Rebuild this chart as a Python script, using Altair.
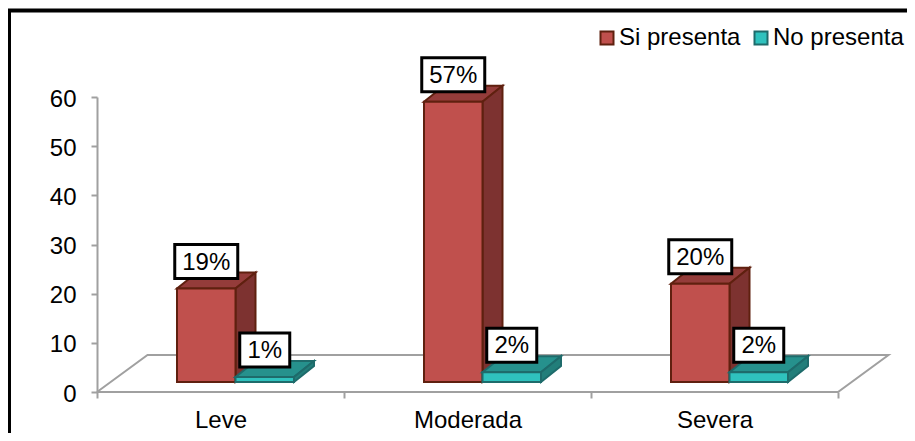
import altair as alt
import pandas as pd

categories = ["Leve", "Moderada", "Severa"]
si_presenta = [19, 57, 20]
no_presenta = [1, 2, 2]
labels_si = ["19%", "57%", "20%"]
labels_no = ["1%", "2%", "2%"]
y_ticks = [0, 10, 20, 30, 40, 50, 60]
series = ["Si presenta", "No presenta"]

FONT = "Liberation Sans"
FS = 24
FRONT = ["#C0504D", "#2FC2BE"]
SIDE = ["#7D3230", "#227E7A"]
TOP = ["#943C3A", "#26918D"]
EDGE = ["#5F200F", "#1E6B6B"]
AXIS_GRAY = "#A0A0A0"

PXX = 247.0       # pixels per category
PXY = 295 / 60.0  # pixels per value unit
W = 810
H = 295

# oblique depth of the bars and the floor, in data units
BAR_DX, BAR_DY = 20 / PXX, 16 / PXY
FLOOR_DX, FLOOR_DY = 50.5 / PXX, 37 / PXY
BASE = 10 / PXY
BAR_W = 58.5 / PXX
GROUP_START = 80 / PXX

front, side, top, box = [], [], [], []
for s, (vals, labs) in enumerate([(si_presenta, labels_si), (no_presenta, labels_no)]):
    for i, (c, v, lab) in enumerate(zip(categories, vals, labs)):
        x0 = i + GROUP_START + s * BAR_W
        x1 = x0 + BAR_W
        yt = BASE + v
        front.append(dict(serie=series[s], cat=c, x0=x0, x1=x1, y0=BASE, y1=yt))
        side += [
            dict(s=s, id=i, x=x1, y=BASE, y2=yt),
            dict(s=s, id=i, x=x1 + BAR_DX, y=BASE + BAR_DY, y2=yt + BAR_DY),
        ]
        top += [
            dict(s=s, id=i, y=yt, x=x0, x2=x1),
            dict(s=s, id=i, y=yt + BAR_DY, x=x0 + BAR_DX, x2=x1 + BAR_DX),
        ]
        box.append(dict(x=(x0 + x1) / 2, y=yt, label=lab, wide=len(lab) > 2))

front_df = pd.DataFrame(front)
side_df = pd.DataFrame(side)
top_df = pd.DataFrame(top)
box_df = pd.DataFrame(box)

n = len(categories)
floor_df = pd.DataFrame(
    [
        dict(o=0, x=0, y=0),
        dict(o=1, x=FLOOR_DX, y=FLOOR_DY),
        dict(o=2, x=n + FLOOR_DX, y=FLOOR_DY),
        dict(o=3, x=n, y=0),
        dict(o=4, x=0, y=0),
    ]
)

xs = alt.Scale(domain=[0, W / PXX], nice=False, zero=False)
ys = alt.Scale(domain=[0, 60], nice=False, zero=False)

label_expr = "datum.value==0?'%s':datum.value==1?'%s':datum.value==2?'%s':''" % tuple(categories)

x_axis = alt.Axis(
    values=[0, 1, 2, 3],
    domain=False,
    grid=False,
    tickColor=AXIS_GRAY,
    tickWidth=2,
    tickSize=6,
    labelExpr=label_expr,
    labelOffset=PXX / 2,
    labelFlush=False,
    labelOverlap=False,
    labelPadding=10,
    labelFont=FONT,
    labelFontSize=FS,
    labelColor="#000000",
)
y_axis = alt.Axis(
    values=y_ticks,
    grid=False,
    domainColor=AXIS_GRAY,
    domainWidth=2,
    tickColor=AXIS_GRAY,
    tickWidth=2,
    tickSize=6,
    labelPadding=15,
    labelOffset=2,
    labelFont=FONT,
    labelFontSize=FS,
    labelColor="#000000",
)
X = lambda f="x": alt.X(f"{f}:Q", scale=xs, axis=x_axis, title=None)
Y = lambda f="y": alt.Y(f"{f}:Q", scale=ys, axis=y_axis, title=None)

axes = (
    alt.Chart(floor_df)
    .mark_line(color=AXIS_GRAY, strokeWidth=2, clip=False)
    .encode(x=X("x"), y=Y("y"), order="o:Q")
)

layers = [axes]
front_color = alt.Color(
    "serie:N",
    scale=alt.Scale(domain=series, range=FRONT),
    legend=alt.Legend(
        title=None,
        orient="none",
        direction="horizontal",
        legendX=498,
        legendY=-71,
        symbolType="square",
        symbolSize=169,
        symbolStrokeWidth=2,
        symbolOpacity=1,
        labelFont=FONT,
        labelFontSize=FS,
        labelColor="#000000",
        labelOffset=0,
        columnPadding=8,
        padding=0,
    ),
)
front_stroke = alt.Stroke("serie:N", scale=alt.Scale(domain=series, range=EDGE), legend=None)

for s in range(2):
    top_layer = (
        alt.Chart(top_df[top_df.s == s])
        .mark_area(orient="horizontal", color=TOP[s], stroke=EDGE[s], strokeWidth=2, opacity=1)
        .encode(x=X("x"), x2="x2:Q", y=Y("y"), detail="id:N")
    )
    side_layer = (
        alt.Chart(side_df[side_df.s == s])
        .mark_area(color=SIDE[s], stroke=EDGE[s], strokeWidth=2, opacity=1)
        .encode(x=X("x"), y=Y("y"), y2="y2:Q", detail="id:N")
    )
    front_layer = (
        alt.Chart(front_df[front_df.serie == series[s]])
        .mark_bar(strokeWidth=2, opacity=1)
        .encode(x=X("x0"), x2="x1:Q", y=Y("y0"), y2="y1:Q", color=front_color, stroke=front_stroke)
    )
    layers += [top_layer, side_layer, front_layer]

for wide, w in [(True, 63), (False, 50)]:
    d = box_df[box_df.wide == wide]
    layers.append(
        alt.Chart(d)
        .mark_rect(width=w, height=34, yOffset=-27, fill="#FFFFFF", stroke="#000000", strokeWidth=3)
        .encode(x=X("x"), y=Y("y"))
    )
layers.append(
    alt.Chart(box_df)
    .mark_text(font=FONT, fontSize=FS, color="#000000", yOffset=-26, baseline="middle", align="center")
    .encode(x=X("x"), y=Y("y"), text="label:N")
)

# outer frame of the picture
frame_v = alt.Chart(pd.DataFrame({"a": [0]})).mark_rule(color="#000000", strokeWidth=4).encode(
    x=alt.value(-88), y=alt.value(-88), y2=alt.value(360)
)
frame_h = alt.Chart(pd.DataFrame({"a": [0]})).mark_rule(color="#000000", strokeWidth=4).encode(
    y=alt.value(-86.5), x=alt.value(-90), x2=alt.value(W)
)
layers += [frame_v, frame_h]

chart = (
    alt.layer(*layers)
    .properties(
        width=W,
        height=H,
        autosize=alt.AutoSizeParams(type="none"),
        padding={"left": 89, "top": 89, "right": 0, "bottom": 41},
        background="#FFFFFF",
    )
    .configure_view(stroke=None)
)

chart.save("out.html", embed_options={"renderer": "svg", "actions": False})
